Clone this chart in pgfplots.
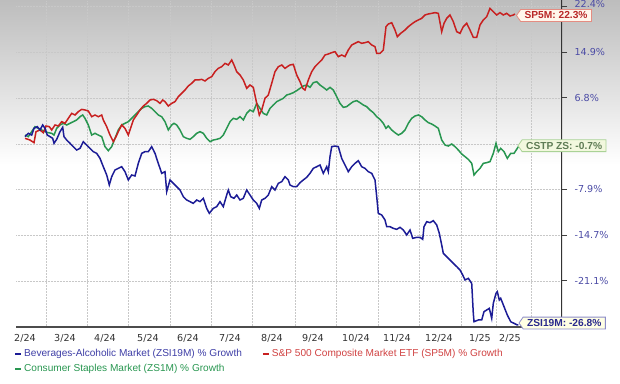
\documentclass[border=0pt]{standalone}
\usepackage{pgfplots}
\pgfplotsset{compat=1.18}
\usepackage{pgfplotstable}
\usepackage{fontspec}
\setmainfont{Liberation Sans}
\newfontfamily\dejavu{DejaVu Sans}
\usetikzlibrary{shapes.symbols}

\definecolor{cblue}{RGB}{28,28,150}
\definecolor{cred}{RGB}{200,32,32}
\definecolor{cgreen}{RGB}{40,150,80}
\definecolor{ticklab}{RGB}{75,75,165}
\definecolor{gridc}{RGB}{200,200,200}

% x: horizontal position along the time axis, y: % growth
\pgfplotstableread{
x y
25 1.47
30 1.20
34 0.78
36 2.52
40 2.79
43.3 2.36
46 3.42
49.3 3.31
51.7 2.79
55 3.58
58.3 3.42
61.7 4.10
65 3.84
68.3 4.63
71.7 5.42
75 5.16
78.3 5.69
81.7 6.05
85 5.95
88.3 5.79
91.7 4.89
95 5.16
98.3 4.89
101.7 5.16
103.3 4.37
106.7 3.31
110 1.99
113.3 0.94
116 1.73
118.3 2.52
121.7 3.58
125 3.05
128.3 1.99
130 2.79
133.3 4.37
136.7 5.16
140 5.95
143.3 6.58
146.7 7.00
150 7.53
153.3 7.64
156.7 7.43
160 7.00
162.7 7.53
165 7.27
168.3 6.58
171.7 7.00
175 7.27
178.3 8.06
181.7 8.59
185 9.11
188.3 9.75
191.7 10.17
195 10.70
198.3 10.70
201.7 10.80
205 10.54
208.3 10.96
211.7 11.22
215 12.01
218.3 12.54
221.7 12.80
225 13.33
228.3 13.07
231.7 13.86
234 13.07
236.7 12.01
240 11.49
243.3 10.70
246.7 9.38
250 9.90
253.3 9.53
256.7 7.00
259.3 5.16
261.7 5.95
265 7.80
268.3 8.32
271.7 10.17
275 12.01
278.3 12.80
281.7 13.07
285 12.54
288.3 12.91
290 13.07
293.3 13.17
296.7 11.49
300 10.43
302.7 9.38
305 9.11
308.3 10.70
311.7 12.01
315 12.80
318.3 13.33
321.7 13.86
325 14.65
328.3 14.81
331.7 15.02
335 15.18
338.3 14.39
341.7 14.65
345 14.39
348.3 15.44
351.7 16.23
355 16.50
358.3 16.76
361.7 16.50
365 16.60
368.3 16.76
371.7 16.23
375 15.97
376.7 14.91
380 14.91
383.3 15.44
386 19.13
388.3 19.55
391.7 19.76
395 18.60
397.3 17.55
400.7 18.08
405 18.60
408.3 19.13
411.7 19.55
415 19.92
418.3 20.19
421.7 20.45
425 20.98
428.3 21.14
431.7 21.24
435 21.35
438.3 21.24
441.7 18.34
444 19.66
446.7 20.45
450 20.98
453.3 19.92
456.7 18.34
460 18.08
463.3 19.13
466.7 19.66
470 18.60
473.3 17.44
476.7 17.44
480 19.40
483.3 20.19
486.7 20.71
490 22.03
493.3 21.50
496.7 20.98
500 21.35
503.3 20.98
506.7 21.24
510 20.82
513.3 20.98
515 21.14
}\spfive

\pgfplotstableread{
x y
25 1.99
28.3 1.73
31.7 2.52
35 3.31
38.3 3.05
41.7 2.79
45 2.52
48.3 2.36
51.7 2.26
54 1.99
56.7 3.05
60 3.58
63.3 3.84
66.7 3.58
70 3.84
73.3 4.10
76.7 4.37
80 4.89
82.7 5.16
85 4.63
88.3 3.58
91.7 1.99
95 2.26
98.3 1.99
101.7 1.73
105 0.15
108.3 -0.48
111.7 0.15
115 1.47
118.3 2.79
121.7 3.58
125 3.84
128.3 4.10
131.7 4.63
135 5.16
138.3 5.69
141.7 6.21
145 6.48
148.3 6.58
151.7 6.21
155 5.69
158.3 5.16
161.7 4.89
165 4.10
168.3 2.79
171.7 3.58
174 3.84
176.7 3.58
180 2.79
183.3 1.73
186.7 1.47
190 1.31
193.3 1.73
196.7 2.26
200 2.52
203.3 2.26
206.7 1.47
210 0.94
213.3 1.20
216.7 1.31
220 1.47
223.3 1.99
226.7 3.05
230 4.10
233.3 4.63
236.7 4.47
240 4.89
243.3 4.37
246.7 5.42
250 5.95
253.3 5.69
256.7 7.00
260 6.21
263.3 5.42
266.7 5.16
270 6.21
273.3 6.74
276.7 7.27
280 7.53
283.3 7.80
286.7 8.32
290 8.48
293.3 8.69
296.7 9.01
300 9.38
303.3 9.75
306.7 9.90
310 9.53
313.3 10.27
316.7 10.43
320 9.90
323.3 9.53
326.7 9.11
330 9.53
333.3 9.11
336.7 8.06
340 7.00
343.3 6.37
346.7 6.48
350 6.90
353.3 7.27
356.7 7.43
360 7.11
363.3 6.74
366.7 6.48
370 5.95
373.3 5.53
376.7 4.89
380 4.47
383.3 3.84
386 3.05
388.3 3.42
391.7 2.79
395 2.36
398.3 1.99
401.7 2.26
405 2.79
408.3 3.84
411.7 4.63
415 5.00
418.3 5.16
421.7 4.89
425 4.37
428.3 3.95
431.7 3.73
435 3.42
438.3 3.05
441.7 1.20
445 0.41
448.3 0.25
451.7 0.57
455 0.15
458.3 -0.38
461.7 -1.01
465 -1.43
468.3 -1.86
471.7 -2.49
474 -4.33
476.7 -3.81
480 -3.28
483.3 -2.49
486.7 -2.38
490 -2.22
493.3 -0.91
496 0.68
498.3 -0.64
500.7 -0.12
504 -0.64
507.3 -1.70
510.7 -0.91
514 -0.91
517.3 -0.12
518.3 0.15
}\cstp

\pgfplotstableread{
x y
25 1.73
28.3 2.26
31.7 1.99
34 3.05
37.3 3.31
40 2.79
42.7 3.58
45 3.05
47.3 1.99
50 1.73
52.7 1.47
54 0.68
56.7 1.31
60 2.52
62.7 3.21
64 1.73
66.7 1.20
70 0.68
73.3 0.15
76.7 -0.38
80 -0.12
83.3 0.94
86.7 0.41
90 -0.12
93.3 -0.64
96.7 -0.91
100 -1.70
103.3 -3.02
106.7 -4.33
109.3 -5.90
111.7 -4.60
115 -3.54
118.3 -3.28
121.7 -3.02
125 -3.81
128.3 -5.12
131.7 -4.33
135 -4.49
138.3 -2.49
141.7 -0.91
145 -0.64
148.3 -0.64
151.7 0.15
155 -0.91
158.3 -2.49
161.7 -4.07
165 -3.81
166.7 -6.97
170 -5.12
173.3 -5.65
176.7 -6.18
180 -6.71
183.3 -7.76
186.7 -8.29
190 -8.55
193.3 -8.82
196.7 -8.29
200 -8.55
203.3 -8.02
206.7 -9.61
209.3 -10.40
213.3 -9.61
216.7 -9.34
220 -8.55
223.3 -9.34
226.7 -7.50
228.3 -6.71
230.7 -7.76
234 -8.02
236.7 -7.50
240 -8.29
243.3 -8.02
246.7 -6.71
250 -7.50
253.3 -8.29
256.7 -8.82
259.3 -9.61
261.7 -8.29
265 -8.02
268.3 -7.50
271.7 -6.18
275 -6.71
278.3 -5.65
281.7 -5.39
285 -4.60
288.3 -5.12
290 -5.92
293.3 -6.18
296.7 -6.18
300 -5.55
303.3 -5.12
306.7 -4.70
310 -4.07
313.3 -3.28
316.7 -3.02
320 -2.75
323.3 -4.07
326.7 -3.02
328.3 -3.81
330 -1.43
331.7 0.15
335 0.25
338.3 0.15
341.7 -1.70
345 -2.75
348.3 -3.81
351.7 -3.02
355 -2.49
358.3 -2.07
361.7 -3.02
365 -3.28
368.3 -3.81
371.7 -4.07
375 -5.12
376.7 -7.76
378.3 -10.40
381.7 -10.66
385 -11.45
386.7 -12.51
390 -12.51
393.3 -12.77
396.7 -12.93
400 -12.61
403.3 -13.03
406.7 -13.82
410 -13.03
412.7 -14.35
416.7 -14.19
420 -14.19
422.7 -14.51
424 -12.51
426.7 -11.72
430 -11.87
433.3 -11.56
436.7 -12.24
439.3 -13.56
441.7 -15.41
443.3 -16.72
446.7 -17.25
450 -17.78
453.3 -18.31
456.7 -18.83
460 -19.36
462.7 -20.15
465 -20.94
468.3 -20.68
471.7 -21.47
473.3 -26.22
474 -27.54
478.3 -27.27
481.7 -27.27
484 -25.95
486.7 -25.69
489.3 -25.43
491.7 -27.01
493.3 -24.63
496 -23.05
497.3 -22.79
499.3 -24.11
500.7 -23.84
504 -25.16
507.3 -26.48
510.7 -27.54
514 -27.80
517.3 -28.06
518.3 -28.06
}\zsi

\begin{document}
\begin{tikzpicture}
\shade[top color=black!26, bottom color=white] (0,0) rectangle (620pt,-165pt);
\begin{axis}[
  scale only axis, width=546pt, height=327pt,
  at={(16pt,-327pt)}, anchor=south west,
  xmin=16, xmax=562, ymin=-28.38, ymax=23.35,
  axis line style={draw=none},
  no markers,
  ytick={15.12,7.85,0.57,-6.55,-13.83,-21.10},
  yticklabels={14.9\%,6.8\%,{},-7.9\%,-14.7\%,-21.1\%},
  extra y ticks={22.40},
  extra y tick labels={22.4\%},
  extra y tick style={yticklabel style={yshift=2.5pt}},
  ytick pos=right, yticklabel pos=right, ytick align=outside,
  major tick length=5pt,
  ytick style={black!75, line width=1pt},
  yticklabel style={font=\dejavu\fontsize{9.6}{10}\selectfont, text=ticklab, xshift=4pt},
  ymajorgrids=true,
  grid style={gridc, line width=0.5pt, densely dotted},
  xtick={25,65,105,148,188,230,272,313,356,397,439,480,510},
  xticklabels={2/24,3/24,4/24,5/24,6/24,7/24,8/24,9/24,10/24,11/24,12/24,1/25,2/25},
  xtick pos=left,
  xtick style={draw=none},
  xticklabel style={font=\dejavu\fontsize{9.6}{10}\selectfont, text=black!80, yshift=-4pt},
  extra x ticks={46,87.7,128.3,170.7,211.7,252.7,295,336,378,419,461,496,531},
  extra x tick labels={},
  extra x tick style={grid=major, major tick length=0pt},
  reverse legend,
  legend columns=2,
  legend cell align=left,
  legend style={at={(0,0)}, anchor=north west, xshift=-5pt, yshift=-18pt,
    draw=none, fill=none, font=\fontsize{10.1}{11}\selectfont, row sep=2.5pt,
    /tikz/every even column/.append style={column sep=18pt}},
  legend image code/.code={\draw[line width=2pt] (0pt,0pt) -- (6pt,0pt);},
]
\draw[black!70, line width=2.4pt] (rel axis cs:0,0) -- (rel axis cs:1,0);
\draw[black!80, line width=1.4pt] (rel axis cs:1,0) -- (rel axis cs:1,1);
\addplot[cgreen, line width=1.5pt] table {\cstp};
\addlegendentry{\textcolor{cgreen}{Consumer Staples Market (ZS1M) \% Growth}}
\addplot[cred, line width=1.5pt] table {\spfive};
\addlegendentry{\textcolor{cred!85!white}{S\&P 500 Composite Market ETF (SP5M) \% Growth}}
\addplot[cblue, line width=1.5pt] table {\zsi};
\addlegendentry{\textcolor{cblue!85!white}{Beverages-Alcoholic Market (ZSI19M) \% Growth}}
\coordinate (endsp) at (axis cs:516,20.9);
\coordinate (endcs) at (axis cs:517.5,0.3);
\coordinate (endzs) at (axis cs:518.5,-27.75);
\end{axis}
\tikzset{callout/.style={signal, signal to=west, signal pointer angle=110, anchor=west,
  font=\bfseries\fontsize{10.2}{11}\selectfont, inner xsep=4pt, inner ysep=2.3pt, line width=0.8pt}}
\node[callout,
  draw={rgb,255:red,228;green,140;blue,130}, fill={rgb,255:red,255;green,246;blue,236},
  text={rgb,255:red,185;green,40;blue,40}] at (endsp) {SP5M: 22.3\%};
\node[callout,
  draw={rgb,255:red,170;green,210;blue,150}, fill={rgb,255:red,242;green,248;blue,222},
  text={rgb,255:red,95;green,125;blue,85}] at (endcs) {CSTP ZS: -0.7\%};
\node[callout,
  draw={rgb,255:red,140;green,140;blue,200}, fill={rgb,255:red,255;green,255;blue,228},
  text={rgb,255:red,40;green,40;blue,140}] at (endzs) {ZSI19M: -26.8\%};
\pgfresetboundingbox
\useasboundingbox (0,0) rectangle (620pt,-383pt);
\end{tikzpicture}
\end{document}
